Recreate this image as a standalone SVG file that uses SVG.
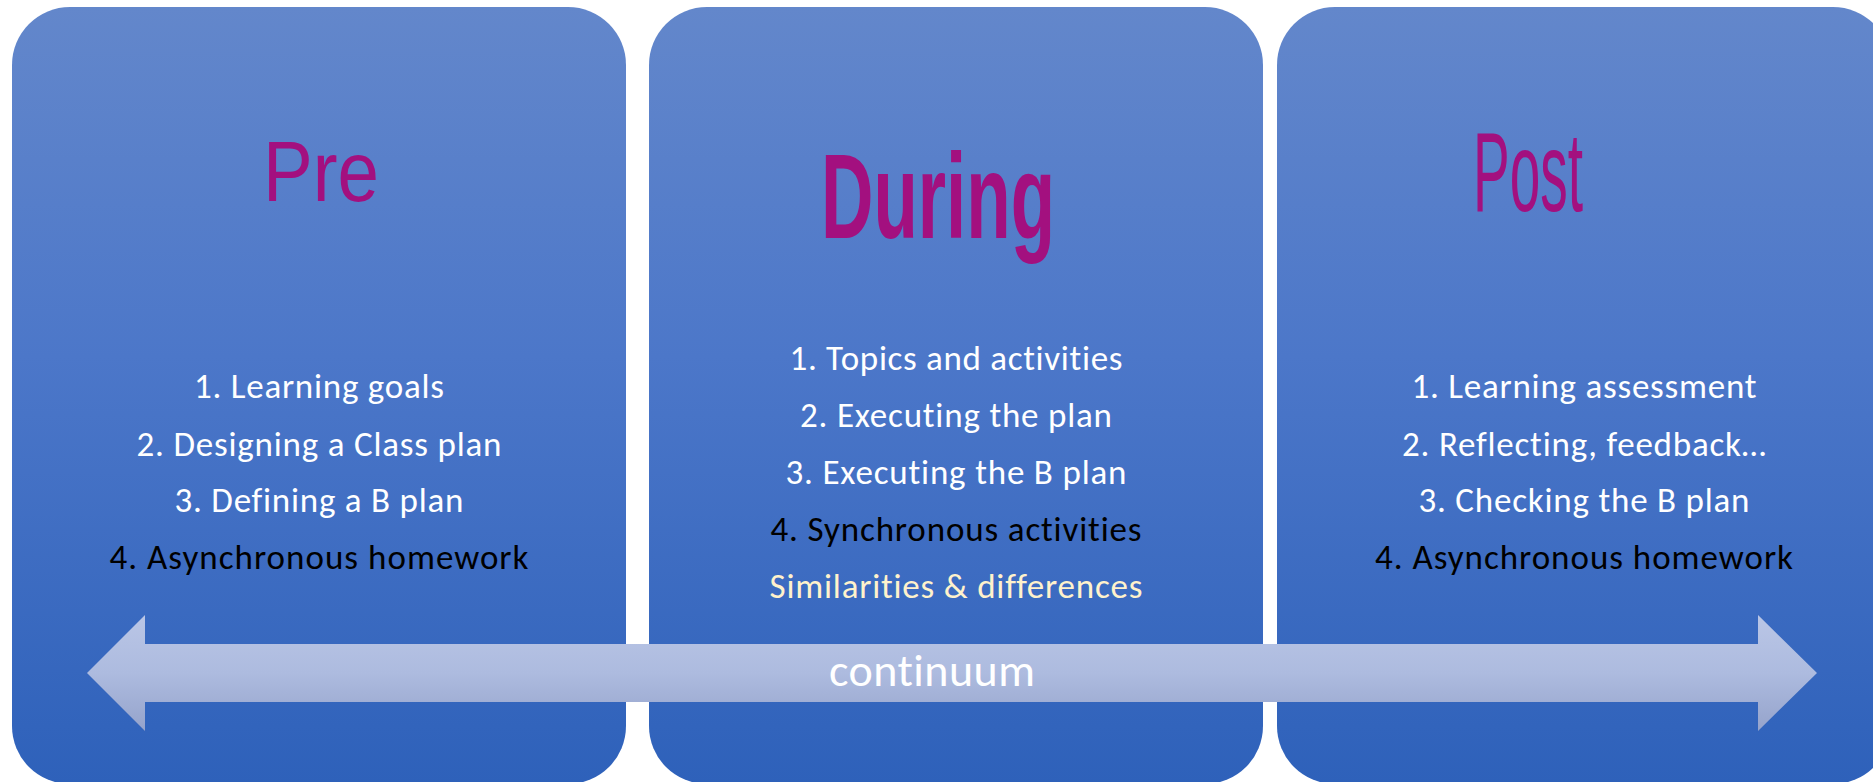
<svg xmlns="http://www.w3.org/2000/svg" width="1873" height="782" viewBox="0 0 1873 782">
  <defs>
    <linearGradient id="panelGrad" gradientUnits="userSpaceOnUse" x1="0" y1="7" x2="0" y2="784">
      <stop offset="0" stop-color="#6387CB"/>
      <stop offset="0.45" stop-color="#4C77C9"/>
      <stop offset="1" stop-color="#2E61BA"/>
    </linearGradient>
    <linearGradient id="arrowGrad" gradientUnits="userSpaceOnUse" x1="0" y1="615" x2="0" y2="731">
      <stop offset="0" stop-color="#BAC6E6"/>
      <stop offset="0.5" stop-color="#ADBBDF"/>
      <stop offset="1" stop-color="#95A3CB"/>
    </linearGradient>
  </defs>
  <style>
    .panel { fill: url(#panelGrad); }
    .title { fill: #A3107F; font-family: "Liberation Sans", Arial, sans-serif; text-anchor: middle; }
    .item { font-family: Carlito, Lato, "Open Sans", sans-serif; font-size: 35px; text-anchor: middle; font-variant-ligatures: none; }
    .w { fill: #FFFFFF; }
    .k { fill: #000000; }
    .c { fill: #FFF2CC; }
  </style>
  <rect width="1873" height="782" fill="#FFFFFF"/>

  <g id="pre">
    <rect class="panel" x="12" y="7" width="614" height="777" rx="58" ry="58"/>
    <text class="title" x="321" y="201" font-size="85" textLength="116" lengthAdjust="spacingAndGlyphs">Pre</text>
    <text class="item w" x="319" y="398" textLength="250" lengthAdjust="spacing">1. Learning goals</text>
    <text class="item w" x="319" y="456" textLength="365" lengthAdjust="spacing">2. Designing a Class plan</text>
    <text class="item w" x="319" y="512" textLength="289" lengthAdjust="spacing">3. Defining a B plan</text>
    <text class="item k" x="319" y="569" textLength="419" lengthAdjust="spacing">4. Asynchronous homework</text>
  </g>

  <g id="during">
    <rect class="panel" x="649" y="7" width="614" height="777" rx="58" ry="58"/>
    <text class="title" x="938" y="238" font-size="120" font-weight="bold" textLength="234" lengthAdjust="spacingAndGlyphs">During</text>
    <text class="item w" x="956" y="370" textLength="333" lengthAdjust="spacing">1. Topics and activities</text>
    <text class="item w" x="956" y="427" textLength="312" lengthAdjust="spacing">2. Executing the plan</text>
    <text class="item w" x="956" y="484" textLength="341" lengthAdjust="spacing">3. Executing the B plan</text>
    <text class="item k" x="956" y="541" textLength="371" lengthAdjust="spacing">4. Synchronous activities</text>
    <text class="item c" x="956" y="598" textLength="373" lengthAdjust="spacing">Similarities &amp; differences</text>
  </g>

  <g id="post">
    <rect class="panel" x="1277" y="7" width="614" height="777" rx="58" ry="58"/>
    <text class="title" x="1528" y="211" font-size="113" textLength="110" lengthAdjust="spacingAndGlyphs">Post</text>
    <text class="item w" x="1584" y="398" textLength="345" lengthAdjust="spacing">1. Learning assessment</text>
    <text class="item w" x="1584" y="456" textLength="364" lengthAdjust="spacing">2. Reflecting, feedback…</text>
    <text class="item w" x="1584" y="512" textLength="331" lengthAdjust="spacing">3. Checking the B plan</text>
    <text class="item k" x="1584" y="569" textLength="418" lengthAdjust="spacing">4. Asynchronous homework</text>
  </g>

  <g id="connectors">
    <g id="continuum">
      <polygon points="87,673 145,615 145,644 1758,644 1758,615 1817,673 1758,731 1758,702 145,702 145,731" fill="url(#arrowGrad)"/>
      <text x="932" y="686" font-family="Carlito, Lato, 'Open Sans', sans-serif" font-size="46" fill="#FFFFFF" text-anchor="middle" font-variant-ligatures="none" style="font-variant-ligatures: none" textLength="206" lengthAdjust="spacing">continuum</text>
    </g>
  </g>
</svg>
